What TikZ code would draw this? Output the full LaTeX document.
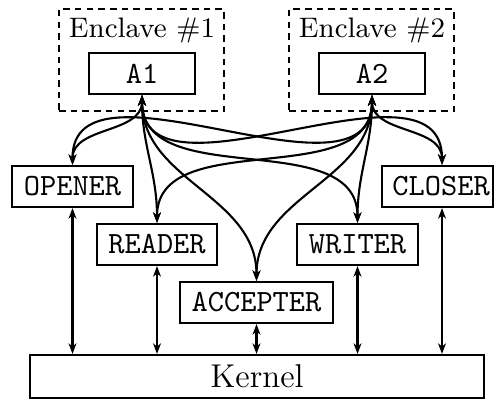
\documentclass[tikz,border=0pt]{standalone}
\usetikzlibrary{arrows.meta}
\begin{document}
\begin{tikzpicture}[x=0.3333pt,y=-0.3333pt,
  >={Stealth[length=3.5pt,width=2.6pt,inset=1pt]},
  every node/.style={inner sep=0pt},
  box/.style={draw,line width=0.7pt,minimum height=13.67pt,
              font=\fontsize{10.3}{12}\ttfamily},
  enclave/.style={draw,line width=0.7pt,dash pattern=on 2.2pt off 1.7pt,
                  minimum width=55pt,minimum height=34pt},
  label/.style={font=\fontsize{9.4}{11}\selectfont},
  link/.style={<->,line width=0.7pt}]
\useasboundingbox (0,0) rectangle (494,401);

% enclaves with their applications
\node[enclave] (E1) at (141.5,60) {};
\node[enclave] (E2) at (371.5,60) {};
\node[label] (T1) at (142,30) {Enclave \#1};
\node[label] (T2) at (372,30) {Enclave \#2};
\node[box,minimum width=35.33pt] (A1) at (142,73.5) {A1};
\node[box,minimum width=35.33pt] (A2) at (372,73.5) {A2};

% system call handlers
\node[box,minimum width=40.33pt] (OPENER) at (72.5,186.5) {OPENER};
\node[box,minimum width=40pt] (READER) at (157,244.5) {READER};
\node[box,minimum width=51pt] (ACCEPTER) at (256.5,302.5) {ACCEPTER};
\node[box,minimum width=40.33pt] (WRITER) at (357.5,244.5) {WRITER};
\node[box,minimum width=37pt] (CLOSER) at (437.5,186.5) {\hspace*{2.4pt}CLOSER};

% kernel
\node[draw,line width=0.7pt,minimum width=151.33pt,minimum height=14.33pt,
      font=\fontsize{11}{13}\selectfont] (K) at (257,376.5) {Kernel};

% applications to handlers
\foreach \a in {A1,A2}{
  \draw[link] (\a.south) to[out=-90,in=90] (OPENER.north);
  \draw[link] (\a.south) to[out=-90,in=90] (READER.north);
  \draw[link] (\a.south) to[out=-90,in=90] (ACCEPTER.north);
  \draw[link] (\a.south) to[out=-90,in=90] (WRITER.north);
  \draw[link] (\a.south) to[out=-90,in=90] ([xshift=1.5pt]CLOSER.north);
}

% handlers to kernel
\foreach \h in {OPENER,READER,ACCEPTER,WRITER}{
  \draw[link] (\h.south) -- (\h.south |- K.north);
}
\draw[link] ([xshift=1.5pt]CLOSER.south) -- ([xshift=1.5pt]CLOSER.south |- K.north);
\end{tikzpicture}
\end{document}
